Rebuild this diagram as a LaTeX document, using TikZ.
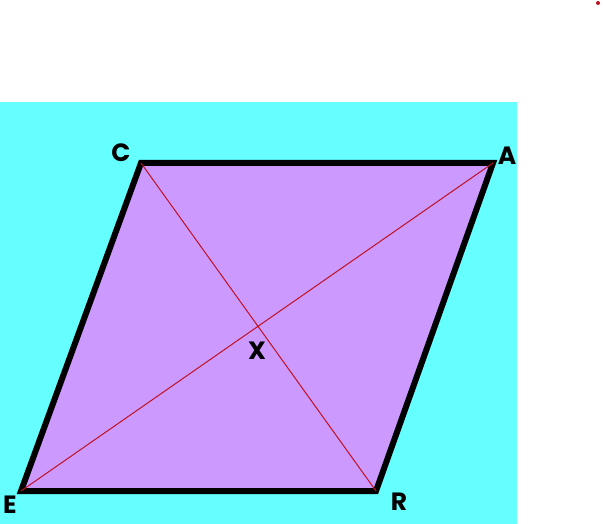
\documentclass[tikz,border=0pt]{standalone}
\usepackage{fontspec}
\setmainfont{Poppins}
\usetikzlibrary{positioning}
\definecolor{skyback}{HTML}{66FFFF}
\definecolor{rhombfill}{HTML}{CC99FF}
\definecolor{diagred}{HTML}{C01020}
\tikzset{vlabel/.style={font=\fontsize{25}{25}\selectfont\bfseries,inner sep=0pt}}

\begin{document}
\begin{tikzpicture}[x=1pt,y=-1pt]
\useasboundingbox (0,0) rectangle (603,524);
\fill[skyback] (0,102) rectangle (517,524);
\fill[diagred] (598,3) circle (2);
\coordinate (C) at (141,163);
\coordinate (A) at (493,163);
\coordinate (R) at (376,491);
\coordinate (E) at (21,491);
\filldraw[fill=rhombfill,line width=6pt,line join=miter] (C) -- (A) -- (R) -- (E) -- cycle;
\draw[diagred,line width=1pt] (C) -- (R);
\draw[diagred,line width=1pt] (E) -- (A);
\node[vlabel] (lc) at (121,153) {C};
\node[vlabel] (la) at (507,156) {A};
\node[vlabel] (lr) at (399,502) {R};
\node[vlabel] (le) at (10,505) {E};
\node[vlabel] (lx) at (257,351) {X};
\end{tikzpicture}
\end{document}
